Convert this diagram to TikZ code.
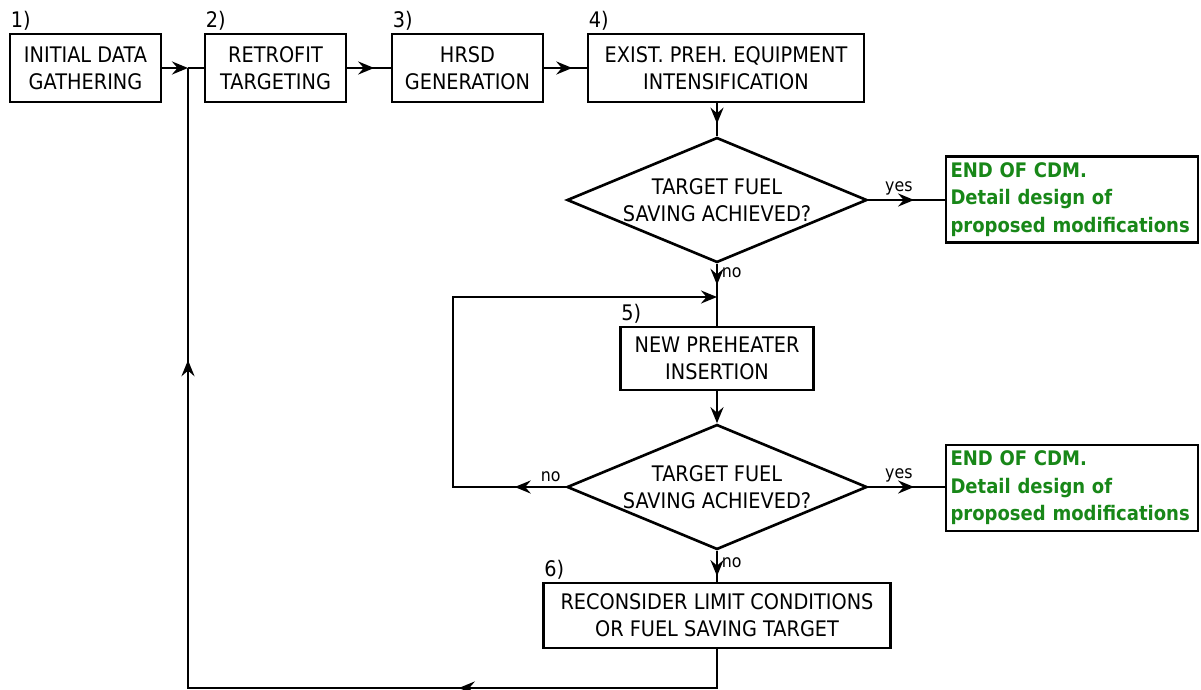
\documentclass[tikz,border=0pt]{standalone}
\usepackage{fontspec}
\setmainfont{DejaVu Sans}[FakeStretch=0.9]
\usepackage{tikz}
\usetikzlibrary{arrows.meta,positioning,shapes.geometric,decorations.markings}
\definecolor{endgreen}{RGB}{24,135,24}
\hyphenpenalty=10000

\begin{document}
\begin{tikzpicture}[
    font=\fontsize{12.2pt}{15.5pt}\selectfont,
    line width=1.5pt,
    box/.style={draw, align=center, minimum height=1.36cm, inner sep=2pt},
    dec/.style={draw, shape=diamond, aspect=2.4, minimum width=6cm, minimum height=2.5cm, inner sep=0pt, align=center},
    stop/.style={draw, align=left, text width=4.86cm, minimum height=1.72cm, inner xsep=0.09cm, text=endgreen, font=\bfseries\fontsize{11.4pt}{15.6pt}\selectfont},
    num/.style={anchor=south west, inner sep=0.5pt},
    lbl/.style={font=\fontsize{10pt}{11pt}\selectfont, inner sep=2pt},
    tip/.style={-{Stealth[length=3.2mm,width=2.6mm,inset=1.1mm]}},
    midarr/.style={postaction={decorate}, decoration={markings, mark=at position #1 with {\arrow{Stealth[length=3.2mm,width=2.6mm,inset=1.1mm]}}}},
    midarrs/.style 2 args={postaction={decorate}, decoration={markings,
        mark=at position #1 with {\arrow{Stealth[length=3.2mm,width=2.6mm,inset=1.1mm]}},
        mark=at position #2 with {\arrow{Stealth[length=3.2mm,width=2.6mm,inset=1.1mm]}}}}
]
\useasboundingbox (0,0) rectangle (24.02,-13.8);

\node[box, minimum width=3.02cm] (gather) at (1.71,-1.36) {INITIAL DATA\\GATHERING};
\node[box, minimum width=2.82cm] (retro) at (5.51,-1.36) {RETROFIT\\TARGETING};
\node[box, minimum width=3.02cm] (hrsd) at (9.35,-1.36) {HRSD\\GENERATION};
\node[box, minimum width=5.52cm] (exist) at (14.52,-1.36) {EXIST. PREH. EQUIPMENT\\INTENSIFICATION};
\node[dec] (check1) at (14.34,-4.0) {TARGET FUEL\\SAVING ACHIEVED?};
\node[stop] (end1) at (21.44,-3.99) {END OF CDM.\\Detail design of\\proposed modifications};
\node[box, minimum width=3.86cm, minimum height=1.26cm] (newph) at (14.34,-7.17) {NEW PREHEATER\\INSERTION};
\node[dec] (check2) at (14.34,-9.74) {TARGET FUEL\\SAVING ACHIEVED?};
\node[stop] (end2) at (21.44,-9.76) {END OF CDM.\\Detail design of\\proposed modifications};
\node[box, minimum width=6.94cm, minimum height=1.3cm] (recon) at (14.34,-12.31) {RECONSIDER LIMIT CONDITIONS\\OR FUEL SAVING TARGET};

\node[num] (n1) at (gather.north west) {1)};
\node[num] (n2) at (retro.north west) {2)};
\node[num] (n3) at (hrsd.north west) {3)};
\node[num] (n4) at (exist.north west) {4)};
\node[num] (n5) at (newph.north west) {5)};
\node[num] (n6) at (recon.north west) {6)};

\coordinate (join) at (3.76,-1.36);
\coordinate (merge) at (14.34,-5.94);
\coordinate (loopc) at (9.06,-5.94);
\coordinate (back) at (3.76,-13.76);

\draw[tip] (gather) -- (join);
\draw (join) -- (retro);
\draw[midarr=0.62] (retro) -- (hrsd);
\draw[midarr=0.66] (hrsd) -- (exist);
\draw[midarr=0.62] (exist.south -| check1.north) -- (check1.north);
\draw[midarr=0.6] (check1.east) -- node[lbl, pos=0.4, above] {yes} (check1.east -| end1.west);
\draw[midarr=0.34] (check1) -- node[lbl, pos=0.15, right] {no} (newph);
\draw[tip, midarr=0.09] (check2.west) -| node[lbl, pos=0.066, above] {no} (loopc) -- (merge);
\draw[tip] (newph) -- (check2);
\draw[midarr=0.6] (check2.east) -- node[lbl, pos=0.4, above] {yes} (check2.east -| end2.west);
\draw[midarr=0.82] (check2) -- node[lbl, pos=0.4, right] {no} (recon);
\draw[midarrs={0.25}{0.754}] (recon.south) |- (back) -- (join);
\end{tikzpicture}
\end{document}
